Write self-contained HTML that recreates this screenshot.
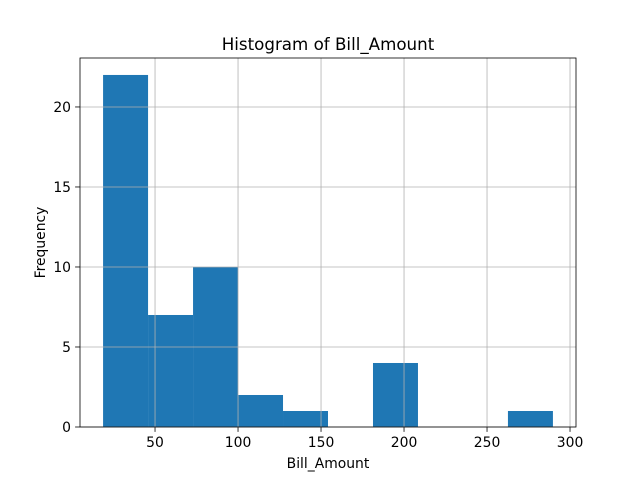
<!DOCTYPE html>
<html><head><meta charset="utf-8"><style>body{margin:0;background:#fff}svg{display:block;font-family:"DejaVu Sans","Liberation Sans",sans-serif}</style></head>
<body>
<svg id="c" width="640" height="480"></svg>
<script>
const binStart = 18.7;
const binWidth = 27.1;
const counts = [22, 7, 10, 2, 1, 0, 4, 0, 0, 1];
const xTicks = [50, 100, 150, 200, 250, 300];
const yTicks = [0, 5, 10, 15, 20];
const L=80,R=576,T=58,B=427,xmin=4.8,xmax=303.6,ymin=0,ymax=23.06;
const sx=v=>L+(v-xmin)/(xmax-xmin)*(R-L);
const sy=v=>B-(v-ymin)/(ymax-ymin)*(B-T);
const svg=document.getElementById('c');const NS='http://www.w3.org/2000/svg';
function mk(t,a,txt){const e=document.createElementNS(NS,t);for(const k in a)e.setAttribute(k,a[k]);if(txt!=null)e.textContent=txt;svg.appendChild(e);return e;}
counts.forEach((c,i)=>{if(!c)return;const x0=sx(binStart+i*binWidth),x1=sx(binStart+(i+1)*binWidth);
const r=mk('rect',{x:x0,y:sy(c),width:x1-x0,height:sy(0)-sy(c),fill:'#1f77b4'});

});
xTicks.forEach(t=>{const x=sx(t);
const g=mk('line',{x1:x,x2:x,y1:T,y2:B,stroke:'#b0b0b0','stroke-width':0.8});


mk('line',{x1:x,x2:x,y1:B,y2:B+4.9,stroke:'#000','stroke-width':0.8});
const l=mk('text',{x:x,y:B+20,'font-size':13.9,'text-anchor':'middle'},String(t));

});
yTicks.forEach(t=>{const y=sy(t);
const g=mk('line',{x1:L,x2:R,y1:y,y2:y,stroke:'#b0b0b0','stroke-width':0.8});


mk('line',{x1:L-4.9,x2:L,y1:y,y2:y,stroke:'#000','stroke-width':0.8});
const l=mk('text',{x:L-9,y:y+5,'font-size':13.9,'text-anchor':'end'},String(t));

});
const f=mk('rect',{x:L,y:T,width:R-L,height:B-T,fill:'none',stroke:'#000','stroke-width':0.8});


const ti=mk('text',{x:(L+R)/2,y:50,'font-size':16.7,'text-anchor':'middle'},'Histogram of Bill_Amount');


const xl=mk('text',{x:(L+R)/2,y:468,'font-size':13.9,'text-anchor':'middle'},'Bill_Amount');


const yl=mk('text',{x:45,y:(T+B)/2,'font-size':13.9,'text-anchor':'middle',transform:`rotate(-90 45 ${(T+B)/2})`},'Frequency');


</script>
</body></html>
